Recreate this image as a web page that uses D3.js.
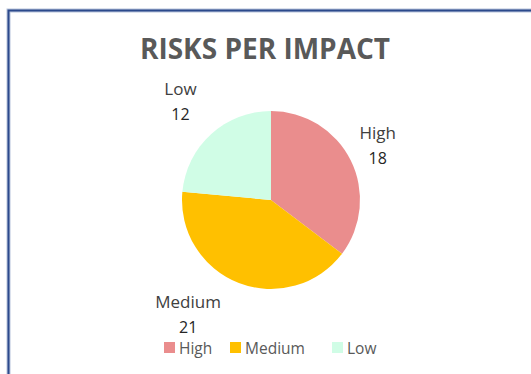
<!DOCTYPE html>
<html><head><meta charset="utf-8">
<script src="https://cdn.jsdelivr.net/npm/d3@7"></script>
<style>html,body{margin:0;padding:0;background:#fff;}</style>
</head><body>
<svg id="chart" width="531" height="374"></svg>
<script>
const categories = ["High", "Medium", "Low"];
const values = [18, 21, 12];
const colors = ["#ea8d8d", "#ffc000", "#d0fde6"];
const title = "RISKS PER IMPACT";

const svg = d3.select("#chart");
// frame
svg.append("path").attr("d", "M8.5,374 L8.5,10.5 L531,10.5")
  .attr("fill", "none").attr("stroke", "#b8c4dc").attr("stroke-width", 4);
svg.append("path").attr("d", "M8.5,374 L8.5,10.5 L531,10.5")
  .attr("fill", "none").attr("stroke", "#2c4a8c").attr("stroke-width", 2);

svg.append("text").attr("x", 265).attr("y", 59).attr("text-anchor", "middle")
  .attr("font-family", "Open Sans, sans-serif").attr("font-weight", "bold")
  .attr("font-size", 28).attr("fill", "#595959").text(title);

const cx = 271, cy = 200, r = 89;
const pie = d3.pie().sort(null).value(d => d)(values);
const arc = d3.arc().innerRadius(0).outerRadius(r);
const g = svg.append("g").attr("transform", `translate(${cx},${cy})`);
g.selectAll("path").data(pie).join("path")
  .attr("d", arc).attr("fill", (d, i) => colors[i]);

// data labels
const labelArc = d3.arc().innerRadius(r + 38).outerRadius(r + 38);
const labelOffsets = [[-7, 8], [-37, 2], [-5, 1]];
const lbl = g.selectAll("g.lbl").data(pie).join("g").attr("class", "lbl")
  .attr("transform", (d, i) => {
    const c = labelArc.centroid(d);
    return `translate(${c[0] + labelOffsets[i][0]},${c[1] + labelOffsets[i][1]})`;
  });
lbl.append("text").attr("text-anchor", "middle").attr("y", -12)
  .attr("font-family", "Open Sans, sans-serif").attr("font-size", 17).attr("fill", "#404040")
  .text((d, i) => categories[i]);
lbl.append("text").attr("text-anchor", "middle").attr("y", 13)
  .attr("font-family", "Open Sans, sans-serif").attr("font-size", 16).attr("fill", "#262626")
  .text(d => d.data);

// legend
const legendX = [164, 230, 332];
const leg = svg.append("g");
categories.forEach((c, i) => {
  leg.append("rect").attr("x", legendX[i]).attr("y", 342).attr("width", 11).attr("height", 11)
    .attr("fill", colors[i]);
  leg.append("text").attr("x", legendX[i] + 15).attr("y", 354)
    .attr("font-family", "Open Sans, sans-serif").attr("font-size", 15.5).attr("fill", "#595959")
    .text(c);
});
</script>
</body></html>
